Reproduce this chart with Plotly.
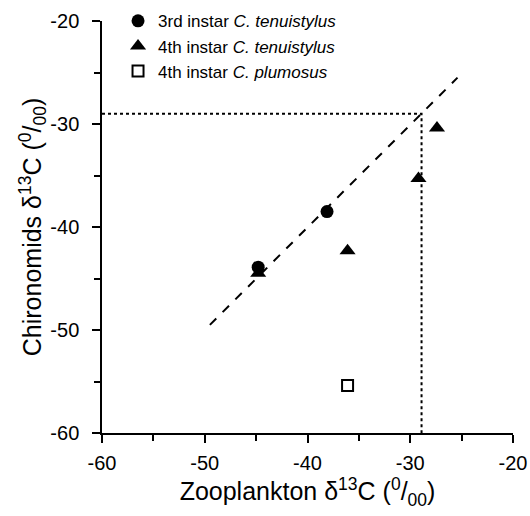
import plotly.graph_objects as go

# Data
third_x = [-44.8, -38.1]
third_y = [-43.9, -38.5]
fourth_x = [-44.8, -36.1, -29.2, -27.4]
fourth_y = [-44.5, -42.3, -35.3, -30.4]
plum_x = [-36.1]
plum_y = [-55.4]
fit_x = [-49.5, -25.4]
fit_y = [-49.5, -25.5]
guide_x = [-60, -28.9, -28.9]
guide_y = [-29, -29, -60]
tick_vals = [-60, -50, -40, -30, -20]
tick_text = ["-60", "-50", "-40", "-30", "-20"]

FONT = "Liberation Sans, Arial, sans-serif"

fig = go.Figure()
fig.add_trace(go.Scatter(x=fit_x, y=fit_y, mode="lines", showlegend=False,
                         line=dict(color="black", width=2, dash="dash")))
fig.add_trace(go.Scatter(x=guide_x, y=guide_y, mode="lines", showlegend=False,
                         line=dict(color="black", width=2, dash="dot")))
fig.add_trace(go.Scatter(x=fourth_x, y=fourth_y, mode="markers", legendrank=2, legendgroup="b",
                         name="4th instar <i>C. tenuistylus</i>",
                         marker=dict(symbol="triangle-up", size=14, color="black")))
fig.add_trace(go.Scatter(x=third_x, y=third_y, mode="markers", legendrank=1, legendgroup="a",
                         name="3rd instar <i>C. tenuistylus</i>",
                         marker=dict(symbol="circle", size=13, color="black")))
fig.add_trace(go.Scatter(x=plum_x, y=plum_y, mode="markers", legendrank=3, legendgroup="c",
                         name="4th instar <i>C. plumosus</i>",
                         marker=dict(symbol="square", size=11, color="white",
                                     line=dict(color="black", width=2))))

axis_common = dict(
    showgrid=False, zeroline=False, showline=True, linecolor="black", linewidth=1.5,
    ticks="outside", ticklen=8, tickwidth=1.5, tickcolor="black",
    tickvals=tick_vals, ticktext=tick_text,
    tickfont=dict(family=FONT, size=20, color="black"),
    minor=dict(ticks="outside", ticklen=6, tickwidth=1.5, tickcolor="black", dtick=5),
)

fig.update_layout(
    width=530, height=516,
    margin=dict(l=102, r=17, t=21, b=83, autoexpand=False),
    paper_bgcolor="white", plot_bgcolor="white",
    font=dict(family=FONT, color="black"),
    xaxis=dict(range=[-60, -20], ticklabelstandoff=3, ticklabeloverflow="allow", **axis_common,
               title=dict(text="Zooplankton δ<sup>13</sup>C (<sup>0</sup>/<sub>00</sub>)",
                          font=dict(family=FONT, size=25), standoff=9)),
    yaxis=dict(range=[-60, -20], ticklabelstandoff=9, **axis_common,
               title=dict(text="Chironomids δ<sup>13</sup>C (<sup>0</sup>/<sub>00</sub>)",
                          font=dict(family=FONT, size=25), standoff=0)),
    legend=dict(x=0.039, y=1.043, xanchor="left", yanchor="top",
                bgcolor="rgba(0,0,0,0)", font=dict(family=FONT, size=17),
                traceorder="grouped", tracegroupgap=0, itemwidth=30),
)

fig.write_html("out.html", config={"displayModeBar": False},
               post_script="document.body.style.margin='0';document.body.style.overflow='hidden';")
